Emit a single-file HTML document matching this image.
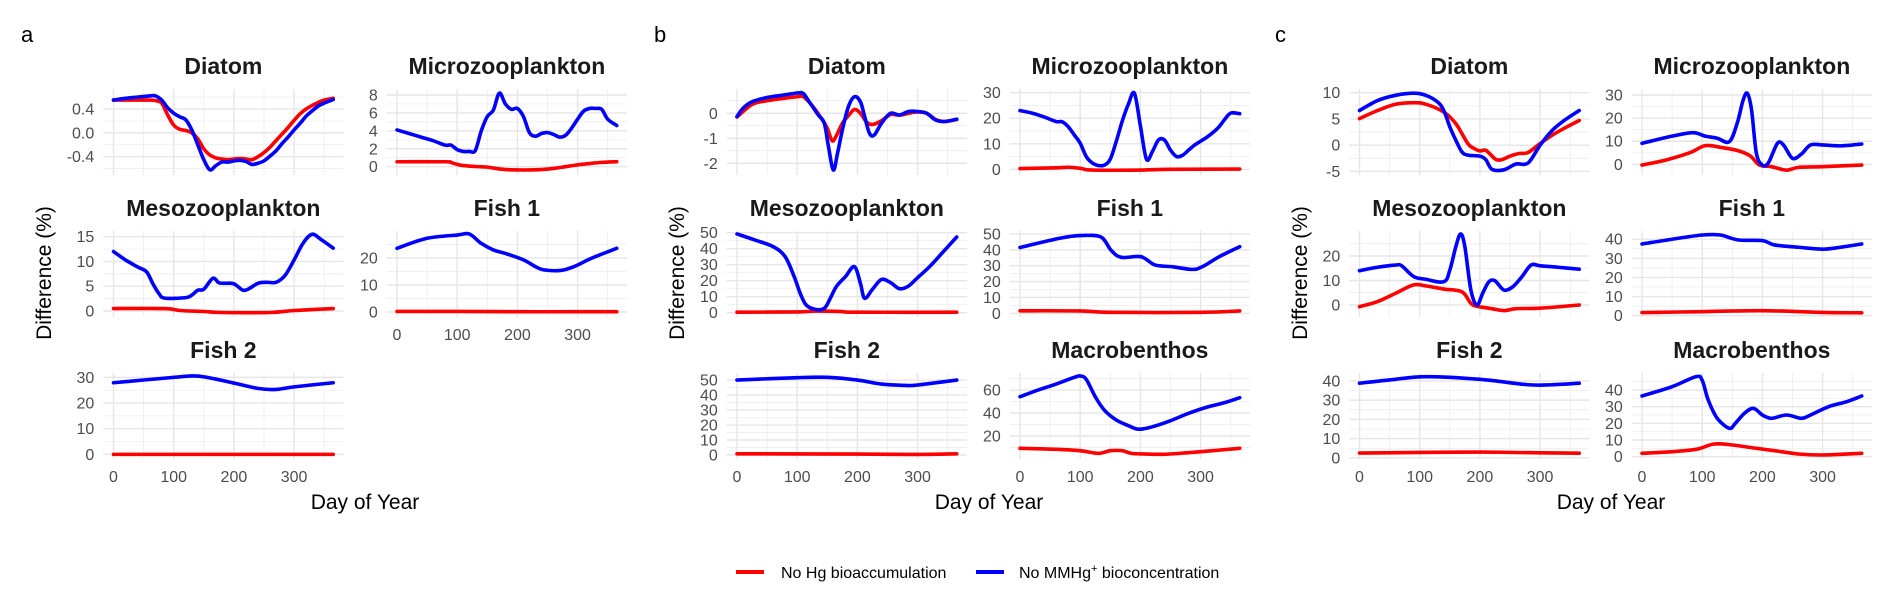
<!DOCTYPE html>
<html><head><meta charset="utf-8"><title>Difference (%) by Day of Year</title>
<style>
html,body{margin:0;padding:0;background:#fff;}
svg{display:block;font-family:"Liberation Sans",Arial,sans-serif;}
</style></head>
<body>
<svg id="chart" width="1892" height="600" viewBox="0 0 1892 600" xmlns="http://www.w3.org/2000/svg">
<rect x="0" y="0" width="1892" height="600" fill="#fff"/>
<g id="panels"></g>
<text x="21" y="42" font-size="22" fill="#000">a</text>
<text x="654" y="42" font-size="22" fill="#000">b</text>
<text x="1275" y="42" font-size="22" fill="#000">c</text>
<text transform="translate(51,273) rotate(-90)" text-anchor="middle" font-size="21" fill="#000">Difference (%)</text>
<text transform="translate(684,273) rotate(-90)" text-anchor="middle" font-size="21" fill="#000">Difference (%)</text>
<text transform="translate(1307,273) rotate(-90)" text-anchor="middle" font-size="21" fill="#000">Difference (%)</text>
<text x="365" y="509" text-anchor="middle" font-size="21" fill="#000">Day of Year</text>
<text x="989" y="509" text-anchor="middle" font-size="21" fill="#000">Day of Year</text>
<text x="1611" y="509" text-anchor="middle" font-size="21" fill="#000">Day of Year</text>
<g>
<g>
<line x1="736" y1="572" x2="764" y2="572" stroke="#ff0000" stroke-width="4"/>
<text x="781" y="578" font-size="16" fill="#000">No Hg bioaccumulation</text>
</g>
<g>
<line x1="976" y1="572" x2="1004" y2="572" stroke="#0000ff" stroke-width="4"/>
<text x="1019" y="578" font-size="16" fill="#000">No MMHg<tspan dy="-6" font-size="11">+</tspan><tspan dy="6">  bioconcentration</tspan></text>
</g>
</g>
</svg>
<script>
// ---------- data (day of year, % difference) ----------
const aDiatomBlueDays=[0,20,40,60,70,80,90,100,110,120,130,140,150,160,170,180,190,200,210,220,230,240,250,260,270,280,290,300,310,320,330,340,350,365];
const aDiatomBlueVals=[0.55,0.58,0.6,0.62,0.62,0.55,0.42,0.33,0.27,0.22,0.05,-0.2,-0.45,-0.62,-0.55,-0.49,-0.49,-0.47,-0.46,-0.48,-0.53,-0.51,-0.47,-0.39,-0.3,-0.18,-0.07,0.05,0.16,0.28,0.37,0.45,0.5,0.56];
const aDiatomRedDays=[0,60,70,80,90,100,110,120,130,140,150,160,170,180,190,200,210,220,230,240,250,260,270,280,290,300,310,320,330,340,350,365];
const aDiatomRedVals=[0.55,0.55,0.54,0.5,0.3,0.13,0.06,0.04,0.0,-0.1,-0.27,-0.37,-0.42,-0.44,-0.45,-0.44,-0.43,-0.44,-0.45,-0.4,-0.33,-0.24,-0.13,-0.02,0.09,0.21,0.32,0.4,0.46,0.51,0.55,0.58];

const aMicroBlueDays=[0,20,40,60,80,90,100,110,120,130,140,150,160,170,180,190,200,210,220,230,240,250,260,270,280,290,300,310,320,330,340,350,365];
const aMicroBlueVals=[4.1,3.7,3.3,2.9,2.4,2.4,1.9,1.7,1.7,1.8,4.0,5.6,6.3,8.2,7.0,6.4,6.5,5.6,3.8,3.4,3.7,3.8,3.6,3.3,3.5,4.3,5.3,6.2,6.5,6.5,6.4,5.3,4.6];
const aMicroRedDays=[0,80,90,100,110,130,150,170,190,220,240,260,280,300,320,340,365];
const aMicroRedVals=[0.55,0.55,0.45,0.25,0.12,0.02,-0.05,-0.25,-0.35,-0.37,-0.32,-0.2,0.0,0.2,0.35,0.48,0.56];

const aMesoBlueDays=[0,20,40,55,65,75,85,120,130,140,150,165,175,185,200,215,225,240,255,270,285,300,315,330,345,365];
const aMesoBlueVals=[12.0,10.3,8.9,7.9,5.6,3.6,2.6,2.7,3.2,4.2,4.4,6.6,5.7,5.6,5.5,4.2,4.5,5.6,5.8,5.8,7.2,10.3,13.7,15.5,14.4,12.7];
const aMesoRedDays=[0,85,110,150,180,260,300,365];
const aMesoRedVals=[0.5,0.5,0.1,-0.1,-0.3,-0.3,0.1,0.5];

const aFish1BlueDays=[0,50,100,120,140,160,180,210,230,244,272,295,323,365];
const aFish1BlueVals=[23.6,27.3,28.5,28.9,25.4,23.0,21.7,19.3,16.8,15.6,15.4,16.9,19.9,23.6];
const aFish1RedDays=[0,100,200,300,365];
const aFish1RedVals=[0.2,0.2,0.1,0.1,0.1];

const aFish2BlueDays=[0,100,140,190,240,270,300,365];
const aFish2BlueVals=[27.9,30.0,30.5,28.3,25.7,25.3,26.3,27.9];
const aFish2RedDays=[0,100,200,300,365];
const aFish2RedVals=[0,0,0,0,0];

const bDiatomBlueDays=[0,10,25,50,75,100,110,120,135,145,152,160,167,175,185,195,205,212,220,228,240,255,270,285,300,315,330,345,365];
const bDiatomBlueVals=[-0.13,0.2,0.46,0.63,0.72,0.81,0.79,0.46,-0.07,-0.4,-1.34,-2.27,-1.6,-0.67,0.26,0.66,0.46,-0.13,-0.8,-0.87,-0.4,0.0,-0.07,0.07,0.07,0.0,-0.27,-0.33,-0.24];
const bDiatomRedDays=[0,25,50,100,110,125,140,150,158,165,175,185,195,205,215,225,240,255,270,285,300,315,330,345,365];
const bDiatomRedVals=[-0.15,0.35,0.5,0.66,0.66,0.3,-0.2,-0.6,-1.1,-0.9,-0.4,-0.1,0.15,0.0,-0.35,-0.45,-0.3,-0.05,-0.08,0.0,0.05,0.0,-0.25,-0.33,-0.25];

const bMicroBlueDays=[0,20,40,60,70,80,90,100,110,120,130,140,150,160,170,180,190,200,210,220,230,240,250,260,270,280,290,300,310,320,330,340,350,365];
const bMicroBlueVals=[23,22,20.5,18.7,18.6,16.7,13.5,10.2,5,2.5,1.5,1.6,4,11,19,25.5,29.8,17,4,7,11.5,11.5,7.5,5,5.5,7.5,9.5,11,12.5,14.3,16.5,19.5,22,21.8];
const bMicroRedDays=[0,60,80,100,120,200,250,365];
const bMicroRedVals=[0.3,0.6,0.8,0.4,-0.3,-0.3,0.0,0.1];

const bMesoBlueDays=[0,30,60,80,95,105,115,130,145,155,165,180,195,205,212,225,240,255,270,285,300,320,340,365];
const bMesoBlueVals=[49.2,45.4,41.3,35,22.5,12.1,4.8,2.1,2.7,9,16.3,22.5,28.8,18.4,9,14.6,20.8,18.8,15,16.7,21.9,28.8,37,47.3];
const bMesoRedDays=[0,100,130,170,200,365];
const bMesoRedVals=[0.3,0.5,1.0,0.8,0.3,0.3];

const bFish1BlueDays=[0,66,100,134,151,168,201,224,252,286,303,331,365];
const bFish1BlueVals=[41.5,47.3,49,48.2,39.9,35.3,35.7,30.5,29.4,27.7,29.4,35.7,42];
const bFish1RedDays=[0,100,150,300,365];
const bFish1RedVals=[1.6,1.5,0.6,0.6,1.5];

const bFish2BlueDays=[0,100,150,200,240,280,300,365];
const bFish2BlueVals=[50,51.6,51.8,50,47.3,46.4,46.7,50];
const bFish2RedDays=[0,200,300,365];
const bFish2RedVals=[0.8,0.6,0.4,0.8];

const bMacroBlueDays=[0,30,60,90,100,110,125,140,160,180,195,210,230,250,280,310,340,365];
const bMacroBlueVals=[54.2,60,65.2,71,72.2,69.3,54.2,42.6,33.9,29,26,26.7,29.6,33.3,39.7,45,49,53.3];
const bMacroRedDays=[0,60,100,130,150,170,185,210,240,280,320,365];
const bMacroRedVals=[9.3,8.4,7.2,4.9,7.2,7.2,4.9,4.3,4.1,5.5,7.2,9.3];

const cDiatomBlueDays=[0,30,60,90,110,130,140,150,160,170,180,200,210,220,240,260,280,300,320,340,365];
const cDiatomBlueVals=[6.6,8.5,9.5,9.9,9.5,8.2,6.6,3.5,0.95,-1.27,-1.9,-2.1,-2.8,-4.6,-4.7,-3.6,-3.4,0,2.8,4.7,6.6];
const cDiatomRedDays=[0,30,60,90,110,140,160,180,190,200,210,225,235,250,265,280,300,320,340,365];
const cDiatomRedVals=[5.06,6.6,7.8,8.1,7.8,6.3,4.1,0.3,-0.6,-1.1,-1.0,-2.6,-2.8,-2.1,-1.6,-1.4,0.3,1.9,3.2,4.7];

const cMicroBlueDays=[0,50,85,105,125,145,158,168,175,182,190,200,210,225,235,250,265,280,300,330,365];
const cMicroBlueVals=[9.1,12.2,13.7,12.2,11.3,9.8,17.7,27.8,30.7,23.5,4.8,-0.3,0.7,9.1,8.4,2.6,4.5,8.4,8.4,8.0,8.8];
const cMicroRedDays=[0,40,80,105,130,160,180,195,215,240,260,300,365];
const cMicroRedVals=[-0.3,1.9,5.1,8.1,7.4,5.9,3.6,-0.3,-1.0,-2.5,-1.3,-1.0,-0.3];

const cMesoBlueDays=[0,30,60,70,90,110,140,150,160,168,175,185,195,205,215,225,240,255,270,285,300,330,365];
const cMesoBlueVals=[14,15.4,16.3,16,11.6,10.5,9.5,14.2,23.8,29,23.8,6.1,0,5,9.5,9.9,6.1,7.5,11.6,16.3,16,15.4,14.6];
const cMesoRedDays=[0,30,60,90,110,140,170,185,195,220,240,260,300,365];
const cMesoRedVals=[-0.7,1.4,4.8,8.2,7.8,6.5,5.4,0.7,-0.5,-1.5,-2.3,-1.5,-1.3,0];

const cFish1BlueDays=[0,50,100,130,160,200,220,260,300,330,365];
const cFish1BlueVals=[37.5,40,42.2,42.2,39.6,39.3,37,35.8,34.8,35.8,37.5];
const cFish1RedDays=[0,100,200,300,365];
const cFish1RedVals=[1.6,2.1,2.6,1.7,1.5];

const cFish2BlueDays=[0,50,110,200,280,320,365];
const cFish2BlueVals=[38.8,40.5,42.2,40.8,38,38,38.8];
const cFish2RedDays=[0,100,200,300,365];
const cFish2RedVals=[2.5,2.8,3.0,2.6,2.4];

const cMacroBlueDays=[0,50,90,100,110,125,145,155,170,185,200,215,240,265,280,310,340,365];
const cMacroBlueVals=[36.4,42,48,45.8,34,23,17,20,26,29,25,23,25,23,25,30,33,36.4];
const cMacroRedDays=[0,50,90,120,150,190,220,260,300,365];
const cMacroRedVals=[2,3,4.4,7.6,7,5,3.6,1.6,1,2];

const xTicks=[0,100,200,300];
const xMinor=[50,150,250,350];

// ---------- layout (not data) ----------
const colX0=[113.5,397,737,1020,1359.5,1642]; // x of day 0 per column
const pxPerDay=0.602;
const rowTop=[89,231,373], rowH=86;

const panels=[
 {id:'a-diatom',title:'Diatom',col:0,row:0,dom:[-0.707,0.736],ticks:[-0.4,0,0.4],dec:1,blue:[aDiatomBlueDays,aDiatomBlueVals],red:[aDiatomRedDays,aDiatomRedVals]},
 {id:'a-microzooplankton',title:'Microzooplankton',col:1,row:0,dom:[-0.93,8.67],ticks:[0,2,4,6,8],dec:0,blue:[aMicroBlueDays,aMicroBlueVals],red:[aMicroRedDays,aMicroRedVals]},
 {id:'a-mesozooplankton',title:'Mesozooplankton',col:0,row:1,dom:[-1.21,16.15],ticks:[0,5,10,15],dec:0,blue:[aMesoBlueDays,aMesoBlueVals],red:[aMesoRedDays,aMesoRedVals]},
 {id:'a-fish-1',title:'Fish 1',col:1,row:1,dom:[-1.85,30],ticks:[0,10,20],dec:0,xlab:true,blue:[aFish1BlueDays,aFish1BlueVals],red:[aFish1RedDays,aFish1RedVals]},
 {id:'a-fish-2',title:'Fish 2',col:0,row:2,dom:[-1.8,31.7],ticks:[0,10,20,30],dec:0,xlab:true,blue:[aFish2BlueDays,aFish2BlueVals],red:[aFish2RedDays,aFish2RedVals]},
 {id:'b-diatom',title:'Diatom',col:2,row:0,dom:[-2.47,0.97],ticks:[-2,-1,0],dec:0,blue:[bDiatomBlueDays,bDiatomBlueVals],red:[bDiatomRedDays,bDiatomRedVals]},
 {id:'b-microzooplankton',title:'Microzooplankton',col:3,row:0,dom:[-2.23,31.45],ticks:[0,10,20,30],dec:0,blue:[bMicroBlueDays,bMicroBlueVals],red:[bMicroRedDays,bMicroRedVals]},
 {id:'b-mesozooplankton',title:'Mesozooplankton',col:2,row:1,dom:[-2.69,51.06],ticks:[0,10,20,30,40,50],dec:0,blue:[bMesoBlueDays,bMesoBlueVals],red:[bMesoRedDays,bMesoRedVals]},
 {id:'b-fish-1',title:'Fish 1',col:3,row:1,dom:[-2.33,51.9],ticks:[0,10,20,30,40,50],dec:0,blue:[bFish1BlueDays,bFish1BlueVals],red:[bFish1RedDays,bFish1RedVals]},
 {id:'b-fish-2',title:'Fish 2',col:2,row:2,dom:[-2.67,54.7],ticks:[0,10,20,30,40,50],dec:0,xlab:true,blue:[bFish2BlueDays,bFish2BlueVals],red:[bFish2RedDays,bFish2RedVals]},
 {id:'b-macrobenthos',title:'Macrobenthos',col:3,row:2,dom:[0,74.8],ticks:[20,40,60],dec:0,xlab:true,blue:[bMacroBlueDays,bMacroBlueVals],red:[bMacroRedDays,bMacroRedVals]},
 {id:'c-diatom',title:'Diatom',col:4,row:0,dom:[-5.69,10.7],ticks:[-5,0,5,10],dec:0,blue:[cDiatomBlueDays,cDiatomBlueVals],red:[cDiatomRedDays,cDiatomRedVals]},
 {id:'c-microzooplankton',title:'Microzooplankton',col:5,row:0,dom:[-4.6,32.6],ticks:[0,10,20,30],dec:0,blue:[cMicroBlueDays,cMicroBlueVals],red:[cMicroRedDays,cMicroRedVals]},
 {id:'c-mesozooplankton',title:'Mesozooplankton',col:4,row:1,dom:[-4.9,30.2],ticks:[0,10,20],dec:0,blue:[cMesoBlueDays,cMesoBlueVals],red:[cMesoRedDays,cMesoRedVals]},
 {id:'c-fish-1',title:'Fish 1',col:5,row:1,dom:[-0.7,44.3],ticks:[0,10,20,30,40],dec:0,blue:[cFish1BlueDays,cFish1BlueVals],red:[cFish1RedDays,cFish1RedVals]},
 {id:'c-fish-2',title:'Fish 2',col:4,row:2,dom:[-0.6,44.1],ticks:[0,10,20,30,40],dec:0,xlab:true,blue:[cFish2BlueDays,cFish2BlueVals],red:[cFish2RedDays,cFish2RedVals]},
 {id:'c-macrobenthos',title:'Macrobenthos',col:5,row:2,dom:[-1.4,50.2],ticks:[0,10,20,30,40],dec:0,xlab:true,blue:[cMacroBlueDays,cMacroBlueVals],red:[cMacroRedDays,cMacroRedVals]}
];

const NS='http://www.w3.org/2000/svg';
const root=document.getElementById('panels');
function mk(tag,attrs,parent){const e=document.createElementNS(NS,tag);for(const k in attrs)e.setAttribute(k,attrs[k]);parent.appendChild(e);return e;}
function pathFrom(pts){
  if(pts.length<2)return '';
  let d='M'+pts[0][0].toFixed(2)+','+pts[0][1].toFixed(2);
  for(let i=0;i<pts.length-1;i++){
    const p0=pts[i-1]||pts[i],p1=pts[i],p2=pts[i+1],p3=pts[i+2]||p2;
    const c1x=p1[0]+(p2[0]-p0[0])/6,c1y=p1[1]+(p2[1]-p0[1])/6;
    const c2x=p2[0]-(p3[0]-p1[0])/6,c2y=p2[1]-(p3[1]-p1[1])/6;
    d+=' C'+c1x.toFixed(2)+','+c1y.toFixed(2)+' '+c2x.toFixed(2)+','+c2y.toFixed(2)+' '+p2[0].toFixed(2)+','+p2[1].toFixed(2);
  }
  return d;
}

panels.forEach(p=>{
  const x0=colX0[p.col];
  const xs=d=>x0+d*pxPerDay;
  const top=rowTop[p.row],bot=top+rowH;
  const ys=v=>bot-(v-p.dom[0])/(p.dom[1]-p.dom[0])*rowH;
  const gl=xs(-17),gr=xs(382);
  const g=mk('g',{},root);
  
  
  // minor y grid
  const step=p.ticks[1]-p.ticks[0];
  for(let v=p.ticks[0]-step/2;v<=p.dom[1];v+=step){
    if(v<p.dom[0])continue;
    const l=mk('line',{x1:gl,x2:gr,y1:ys(v),y2:ys(v),stroke:'#ebebeb','stroke-width':0.7},g);
    
    
  }
  xMinor.forEach(d=>{
    const l=mk('line',{x1:xs(d),x2:xs(d),y1:top,y2:bot,stroke:'#ebebeb','stroke-width':0.7},g);
    
    
  });
  p.ticks.forEach(v=>{
    const l=mk('line',{x1:gl,x2:gr,y1:ys(v),y2:ys(v),stroke:'#e6e6e6','stroke-width':1.4},g);
    
    
    const t=mk('text',{x:gl-9,y:ys(v)+5.5,'text-anchor':'end','font-size':16,fill:'#4d4d4d'},g);
    t.textContent=v.toFixed(p.dec);
    
    
  });
  xTicks.forEach(d=>{
    const l=mk('line',{x1:xs(d),x2:xs(d),y1:top,y2:bot,stroke:'#e6e6e6','stroke-width':1.4},g);
    
    
    if(p.xlab){
      const t=mk('text',{x:xs(d),y:bot+23,'text-anchor':'middle','font-size':16,fill:'#4d4d4d'},g);
      t.textContent=String(d);
      
      
    }
  });
  const tt=mk('text',{x:(gl+gr)/2,y:top-15,'text-anchor':'middle','font-size':23,'font-weight':'bold',fill:'#1a1a1a'},g);
  tt.textContent=p.title;
  
  
  [['red','#ff0000'],['blue','#0000ff']].forEach(([k,col])=>{
    const [days,vals]=p[k];
    const pts=days.map((d,i)=>[xs(d),ys(vals[i])]);
    const line=mk('path',{d:pathFrom(pts),fill:'none',stroke:col,'stroke-width':3.6,'stroke-linejoin':'round','stroke-linecap':'round'},g);
    
    
  });
});
</script>
</body></html>
